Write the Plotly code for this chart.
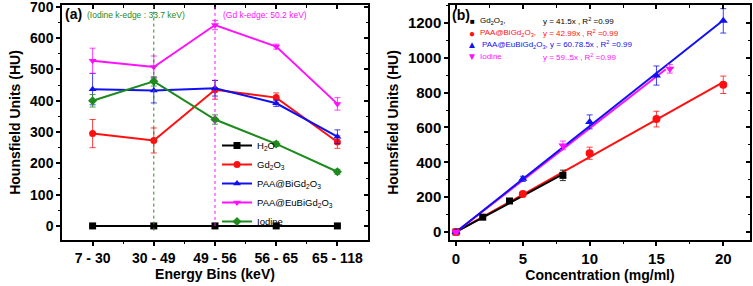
import plotly.graph_objects as go

# ---------------- Data: panel (a) ----------------
energy_bins = ["7 - 30", "30 - 49", "49 - 56", "56 - 65", "65 - 118"]
bin_pos = [0, 1, 2, 3, 4]
h2o = [0, 0, 0, 0, 0]
h2o_err = [0, 0, 0, 0, 0]
gd2o3 = [295, 273, 435, 410, 268]
gd2o3_err = [45, 40, 30, 15, 20]
bigd = [437, 433, 440, 392, 285]
bigd_err = [50, 40, 25, 10, 22]
eubigd = [528, 508, 642, 573, 390]
eubigd_err = [40, 35, 15, 8, 20]
iodine = [400, 462, 340, 262, 173]
iodine_err = [20, 15, 15, 8, 8]
kedge_pos = [1, 2]

# ---------------- Data: panel (b) ----------------
conc_gd = [0, 2, 4, 8]
hu_gd = [0, 85, 178, 325]
err_gd = [5, 8, 10, 30]
conc_bigd = [0, 5, 10, 15, 20]
hu_bigd = [0, 218, 452, 648, 845]
err_bigd = [8, 10, 35, 45, 50]
conc_eubigd = [0, 5, 10, 15, 20]
hu_eubigd = [0, 305, 632, 898, 1212]
err_eubigd = [8, 15, 40, 55, 70]
conc_iod = [0, 8, 16]
hu_iod = [0, 497, 937]
err_iod = [8, 25, 25]
slopes = {"gd": 41.5, "bigd": 42.99, "eubigd": 60.78, "iod": 59.5}
fit_max = {"gd": 8, "bigd": 20, "eubigd": 20, "iod": 15.7}

RED = "#ff1010"
BLUE = "#1010f0"
MAG = "#ff10ff"
GREEN = "#1e8a1e"
BLACK = "#000000"
FONT = "Liberation Sans, Arial, sans-serif"

fig = go.Figure()

def series(x, y, err, color, symbol, name, xa, ya, legend=None, show=True, mode="lines+markers", size=7):
    fig.add_trace(go.Scatter(
        x=x, y=y, mode=mode, name=name, xaxis=xa, yaxis=ya,
        line=dict(color=color, width=2),
        marker=dict(color=color, symbol=symbol, size=size),
        error_y=dict(type="data", array=err, color=color, thickness=0.8, width=3, visible=True),
        showlegend=show, legend=legend,
    ))

# panel (a)
series(bin_pos, h2o, h2o_err, BLACK, "square", "H<sub>2</sub>O", "x", "y", "legend")
series(bin_pos, gd2o3, gd2o3_err, RED, "circle", "Gd<sub>2</sub>O<sub>3</sub>", "x", "y", "legend")
series(bin_pos, bigd, bigd_err, BLUE, "triangle-up", "PAA@BiGd<sub>2</sub>O<sub>3</sub>", "x", "y", "legend")
series(bin_pos, eubigd, eubigd_err, MAG, "triangle-down", "PAA@EuBiGd<sub>2</sub>O<sub>3</sub>", "x", "y", "legend")
series(bin_pos, iodine, iodine_err, GREEN, "diamond", "Iodine", "x", "y", "legend")

# k-edge dotted lines
for xv, col in zip(kedge_pos, [GREEN, MAG]):
    fig.add_shape(type="line", xref="x", yref="y", x0=xv, x1=xv, y0=-15 if col == GREEN else 0, y1=706,
                  line=dict(color=col, width=1, dash="dot"))

# panel (b) fit lines
def fit(key, color):
    xm = fit_max[key]
    fig.add_trace(go.Scatter(x=[0, xm], y=[0, slopes[key] * xm], mode="lines", xaxis="x2", yaxis="y2",
                             line=dict(color=color, width=2), showlegend=False))

fit("bigd", RED)
fit("gd", BLACK)
fit("iod", MAG)
fit("eubigd", BLUE)

series(conc_gd, hu_gd, err_gd, BLACK, "square", "Gd2O3", "x2", "y2", show=False, mode="markers", size=7)
series(conc_bigd, hu_bigd, err_bigd, RED, "circle", "BiGd", "x2", "y2", show=False, mode="markers", size=8)
series(conc_eubigd, hu_eubigd, err_eubigd, BLUE, "triangle-up", "EuBiGd", "x2", "y2", show=False, mode="markers", size=8)
series(conc_iod, hu_iod, err_iod, MAG, "triangle-down", "Iodine", "x2", "y2", show=False, mode="markers", size=8)

XD1 = [62 / 753, 368 / 753]
XD2 = [450 / 753, 750 / 753]
YD = [46 / 286, 281 / 286]
R1X = [-0.5, 4.5]
R1Y = [-45, 706]
R2X = [-0.45, 22.0]
R2Y = [-46, 1303]

tickfont = dict(family=FONT, size=14, color="black")
titlefont = dict(family=FONT, size=14, color="black")

common = dict(showgrid=False, zeroline=False, linecolor="black", linewidth=1.5, showline=True, automargin=False,
              mirror=True, ticks="outside", ticklen=4, tickwidth=1.5, tickcolor="black", ticklabeloverflow="allow")
minor_out = dict(ticks="outside", ticklen=2.5, tickwidth=1, tickcolor="black")
minor_in = dict(ticks="inside", ticklen=2.5, tickwidth=1, tickcolor="black")
overlay = dict(showticklabels=False, showgrid=False, zeroline=False, ticks="inside", ticklen=4, tickwidth=1.5,
               tickcolor="black", automargin=False)

fig.update_layout(
    width=753, height=286, margin=dict(l=0, r=0, t=0, b=0, autoexpand=False),
    paper_bgcolor="white", plot_bgcolor="white",
    font=dict(family=FONT, color="black"),
    xaxis=dict(domain=XD1, anchor="y", range=R1X, tickvals=bin_pos, ticktext=[f"<b>{t}</b>" for t in energy_bins],
               tickfont=tickfont, title=dict(text="<b>Energy Bins (keV)</b>", font=titlefont, standoff=4),
               minor=dict(tickvals=[0.5, 1.5, 2.5, 3.5], **minor_out), **common),
    yaxis=dict(domain=YD, anchor="x", range=R1Y, tickvals=[0, 100, 200, 300, 400, 500, 600, 700],
               ticktext=[f"<b>{v}</b>" for v in [0, 100, 200, 300, 400, 500, 600, 700]],
               tickfont=tickfont, title=dict(text="<b>Hounsfield Units (HU)</b>", font=titlefont, standoff=6),
               minor=dict(dtick=50, **minor_out), **common),
    xaxis3=dict(overlaying="x", anchor="y", side="top", range=R1X, tickvals=bin_pos,
                minor=dict(tickvals=[0.5, 1.5, 2.5, 3.5], **minor_in), **overlay),
    yaxis3=dict(overlaying="y", anchor="x", side="right", range=R1Y, tickvals=[0, 100, 200, 300, 400, 500, 600, 700],
                minor=dict(dtick=50, **minor_in), **overlay),
    xaxis2=dict(domain=XD2, anchor="y2", range=R2X, tickvals=[0, 5, 10, 15, 20],
                ticktext=[f"<b>{v}</b>" for v in [0, 5, 10, 15, 20]],
                tickfont=dict(family=FONT, size=15, color="black"),
                title=dict(text="<b>Concentration (mg/ml)</b>", font=titlefont, standoff=4),
                minor=dict(dtick=2.5, **minor_out), **common),
    yaxis2=dict(domain=YD, anchor="x2", range=R2Y, tickvals=[0, 200, 400, 600, 800, 1000, 1200],
                ticktext=[f"<b>{v}</b>" for v in [0, 200, 400, 600, 800, 1000, 1200]],
                tickfont=dict(family=FONT, size=15, color="black"),
                title=dict(text="<b>Hounsfield Units (HU)</b>", font=titlefont, standoff=6),
                minor=dict(dtick=100, **minor_out), **common),
    xaxis4=dict(overlaying="x2", anchor="y2", side="top", range=R2X, tickvals=[0, 5, 10, 15, 20],
                minor=dict(dtick=2.5, **minor_in), **overlay),
    yaxis4=dict(overlaying="y2", anchor="x2", side="right", range=R2Y, tickvals=[0, 200, 400, 600, 800, 1000, 1200],
                minor=dict(dtick=100, **minor_in), **overlay),
    legend=dict(x=217 / 753, y=1 - 131 / 286, xanchor="left", yanchor="top", bgcolor="rgba(0,0,0,0)",
                font=dict(family=FONT, size=9.5, color="black"), tracegroupgap=0, itemwidth=30),
)

# invisible traces to activate overlay axes
fig.add_trace(go.Scatter(x=[0], y=[0], xaxis="x3", yaxis="y3", mode="markers", marker=dict(opacity=0),
                         showlegend=False, hoverinfo="skip"))
fig.add_trace(go.Scatter(x=[0], y=[0], xaxis="x4", yaxis="y4", mode="markers", marker=dict(opacity=0),
                         showlegend=False, hoverinfo="skip"))

def ann(text, x, y, color, size, xanchor="left", bold=False):
    fig.add_annotation(text=f"<b>{text}</b>" if bold else text, x=x / 753, y=1 - y / 286, xref="paper", yref="paper",
                       xanchor=xanchor, yanchor="middle", showarrow=False, borderpad=0,
                       font=dict(family=FONT, size=size, color=color))

ann("(a)", 64, 14, BLACK, 14, bold=True)
ann("(Iodine k-edge : 33.7 keV)", 86, 15, GREEN, 8.5)
ann("(Gd k-edge: 50.2 keV)", 222, 15, MAG, 8.5)
ann("(b)", 451, 15, BLACK, 14, bold=True)

leg_rows = [
    ("■", "Gd<sub>2</sub>O<sub>3</sub>,", "y = 41.5x , R<sup>2</sup> =0.99", BLACK, 8),
    ("●", "PAA@BiGd<sub>2</sub>O<sub>3</sub>,", "y = 42.99x , R<sup>2</sup> =0.99", RED, 10),
    ("▲", "PAA@EuBiGd<sub>2</sub>O<sub>3</sub>,", "y = 60.78.5x , R<sup>2</sup> =0.99", BLUE, 10),
    ("▼", "Iodine", "y = 59..5x , R<sup>2</sup> =0.99", MAG, 10),
]
for i, (sym, name, eq, col, ssz) in enumerate(leg_rows):
    yy = 21 + i * 12
    ann(sym, 472, yy, col, ssz, xanchor="center")
    if i == 2:
        ann(name + " " + eq, 481, yy, col, 8)
    else:
        ann(name, 479, yy, col, 8)
        ann(eq, 542, yy, col, 8)

fig.write_html("out.html", config={"displayModeBar": False},
               post_script="document.body.style.margin='0';document.body.style.padding='0';")
